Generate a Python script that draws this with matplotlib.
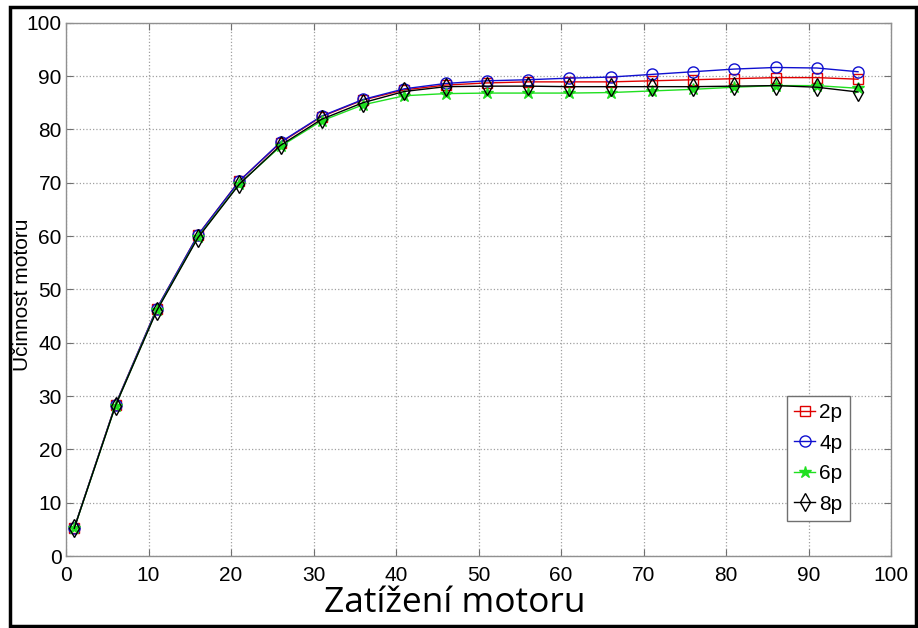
import matplotlib
matplotlib.use('Agg')
import matplotlib.pyplot as plt
from matplotlib.patches import Rectangle

# Zatížení motoru (%) - measurement points
load = [1, 6, 11, 16, 21, 26, 31, 36, 41, 46, 51, 56, 61, 66, 71, 76, 81, 86, 91, 96]

# Účinnost motoru (%) per pole count
eff_2p = [5.3, 28.4, 46.4, 60.2, 70.3, 77.5, 82.4, 85.5, 87.4, 88.3, 88.7, 88.9,
          88.9, 88.9, 89.1, 89.3, 89.5, 89.7, 89.7, 89.4]
eff_4p = [5.3, 28.4, 46.4, 60.2, 70.3, 77.6, 82.5, 85.6, 87.6, 88.6, 89.1, 89.3,
          89.6, 89.8, 90.3, 90.8, 91.3, 91.6, 91.5, 90.8]
eff_6p = [5.2, 28.2, 46.1, 59.8, 69.8, 76.8, 81.6, 84.6, 86.3, 86.7, 86.8, 86.8,
          86.8, 86.9, 87.2, 87.5, 87.9, 88.2, 88.2, 87.7]
eff_8p = [5.2, 28.2, 46.0, 59.7, 69.7, 77.0, 81.9, 85.0, 87.1, 88.0, 88.1, 88.1,
          88.0, 88.0, 88.0, 88.0, 88.1, 88.2, 87.9, 87.0]

labels = ['2p', '4p', '6p', '8p']
ticks = [0, 10, 20, 30, 40, 50, 60, 70, 80, 90, 100]

plt.rcParams['font.family'] = ['Liberation Sans', 'DejaVu Sans']

fig = plt.figure(figsize=(9.18, 6.28), dpi=100)
ax = fig.add_axes([0.0719, 0.1146, 0.8987, 0.8493])

styles = [
    dict(color='#e00000', marker='s', mfc='none', ms=7),
    dict(color='#1010d0', marker='o', mfc='none', ms=8),
    dict(color='#20e020', marker='*', ms=9),
    dict(color='black', marker='d', mfc='none', ms=9),
]
for series, lab, st in zip([eff_2p, eff_4p, eff_6p, eff_8p], labels, styles):
    ax.plot(load, series, lw=1.0, mew=1.0, label=lab, **st)

ax.set_xlim(0, 100)
ax.set_ylim(0, 100)
ax.set_xticks(ticks)
ax.set_yticks(ticks)
ax.grid(True, linestyle=':', color='#a0a0a0', linewidth=0.9)
ax.tick_params(direction='in', length=5, top=True, right=True,
               labelsize=15, color='#707070')
ax.tick_params(axis='x', pad=7)
ax.tick_params(axis='y', pad=3)
for sp in ax.spines.values():
    sp.set_color('#909090')
    sp.set_linewidth(1.0)

ax.set_ylabel('Účinnost motoru', fontsize=15)
ax.yaxis.set_label_coords(-0.041, 0.49)
ax.set_xlabel('Zatížení motoru', fontsize=25.5, family=['Open Sans', 'DejaVu Sans'])
ax.xaxis.set_label_coords(0.4715, -0.056)

leg = ax.legend(loc='upper left', bbox_to_anchor=(0.874, 0.30), fontsize=15,
                handlelength=1.0, handletextpad=0.2, borderpad=0.35,
                labelspacing=0.55, borderaxespad=0, fancybox=False,
                framealpha=1, edgecolor='#707070')

# outer black frame around the picture
fig.patches.append(Rectangle((10 / 918, 2 / 628), 906 / 918, 619 / 628,
                             transform=fig.transFigure, fill=False,
                             edgecolor='black', linewidth=2.5))

fig.savefig('out.png', dpi=100)
